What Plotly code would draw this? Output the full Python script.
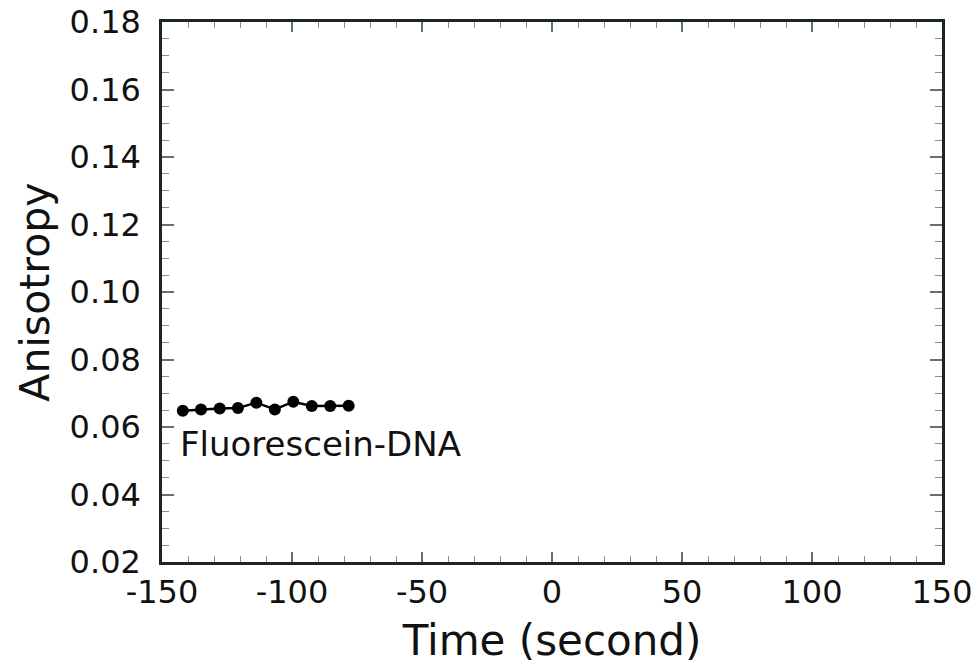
import plotly.graph_objects as go

time_s = [-142.0, -135.0, -127.8, -120.8, -113.7, -106.6, -99.5, -92.4, -85.3, -78.2]
anisotropy = [0.0648, 0.0652, 0.0655, 0.0656, 0.0672, 0.0652, 0.0675, 0.0662, 0.0662, 0.0663]
label_text = "Fluorescein-DNA"
label_pos = (-144.0, 0.055)

x_ticks = [-150, -100, -50, 0, 50, 100, 150]
y_ticks = [0.02, 0.04, 0.06, 0.08, 0.10, 0.12, 0.14, 0.16, 0.18]

FONT = "DejaVu Sans"
AXC = "#1c2626"

fig = go.Figure()
fig.add_trace(go.Scatter(
    x=time_s, y=anisotropy, mode="lines+markers",
    line=dict(color="black", width=2.5),
    marker=dict(color="black", size=12, symbol="circle"),
    showlegend=False,
))

fig.add_annotation(
    x=label_pos[0], y=label_pos[1], text=label_text, showarrow=False,
    xanchor="left", yanchor="middle",
    font=dict(family=FONT, size=34, color="#111111"),
)

fig.update_xaxes(
    range=[-150, 150], tickvals=x_ticks, ticktext=[str(v) for v in x_ticks],
    ticks="inside", ticklen=10, tickwidth=1.5, tickcolor="#667070",
    minor=dict(dtick=10, ticks="inside", ticklen=6, tickcolor="#889090", tickwidth=1),
    showline=True, linecolor=AXC, linewidth=2.5, mirror="ticks",
    showgrid=False, zeroline=False, automargin=False,
    tickfont=dict(family=FONT, size=32, color="#111111"),
    ticklabelstandoff=0,
    title=dict(text="Time (second)", font=dict(family=FONT, size=42, color="#111111"), standoff=16),
)
fig.update_yaxes(
    range=[0.02, 0.18], tickvals=y_ticks, ticktext=[f"{v:.2f}" for v in y_ticks],
    ticks="inside", ticklen=12, tickwidth=1.5, tickcolor="#667070",
    minor=dict(dtick=0.005, ticks="inside", ticklen=7, tickcolor="#889090", tickwidth=1),
    showline=True, linecolor=AXC, linewidth=2.5, mirror="ticks",
    showgrid=False, zeroline=False, automargin=False,
    tickfont=dict(family=FONT, size=32, color="#111111"),
    ticklabelstandoff=12,
    title=dict(text="Anisotropy", font=dict(family=FONT, size=41, color="#111111"), standoff=8),
)

fig.update_layout(
    width=979, height=669,
    margin=dict(l=162, r=37, t=22, b=107, autoexpand=False),
    paper_bgcolor="white", plot_bgcolor="white",
)

fig.write_html("out.html")
